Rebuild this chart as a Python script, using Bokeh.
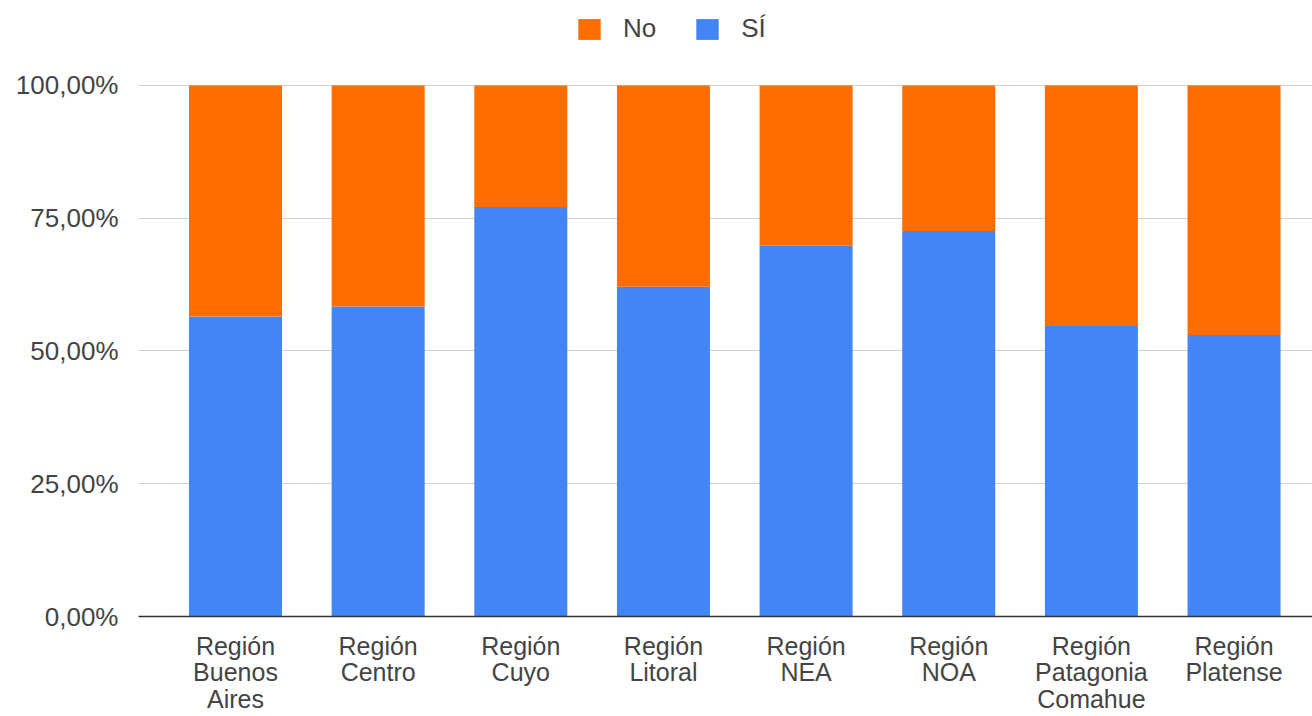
from bokeh.plotting import figure
from bokeh.models import Range1d, FixedTicker, Legend, LegendItem, ColumnDataSource
from bokeh.embed import file_html
from bokeh.resources import INLINE

categories = ["Región\nBuenos\nAires", "Región\nCentro", "Región\nCuyo", "Región\nLitoral",
              "Región\nNEA", "Región\nNOA", "Región\nPatagonia\nComahue", "Región\nPlatense"]
si_values = [0.565, 0.584, 0.771, 0.621, 0.698, 0.726, 0.547, 0.530]
no_values = [1 - v for v in si_values]
y_ticks = [0, 0.25, 0.5, 0.75, 1.0]
y_tick_labels = ["0,00%", "25,00%", "50,00%", "75,00%", "100,00%"]

ORANGE = "#ff6d01"
BLUE = "#4285f4"
FONT = "Liberation Sans"

x = list(range(len(categories)))
src = ColumnDataSource(dict(x=x, si=si_values, no=no_values))

# y range extends above 100% so the legend can sit in the frame's top band
p = figure(width=1312, height=716, output_backend="svg", toolbar_location=None,
           x_range=Range1d(-0.68, 7.55), y_range=Range1d(0, 1.160),
           min_border_left=138, min_border_right=0, min_border_top=0, min_border_bottom=95)
p.outline_line_color = None

r = p.vbar_stack(["si", "no"], x="x", width=0.652, source=src, color=[BLUE, ORANGE], line_color=None)

p.xgrid.grid_line_color = None
p.ygrid.grid_line_color = "#d0d0d0"
p.ygrid.grid_line_width = 1
p.ygrid.ticker = FixedTicker(ticks=y_ticks)

p.yaxis.ticker = FixedTicker(ticks=y_ticks)
p.yaxis.major_label_overrides = {t: l for t, l in zip(y_ticks, y_tick_labels)}
p.yaxis.axis_line_color = None
p.yaxis.major_tick_line_color = None
p.yaxis.minor_tick_line_color = None
p.yaxis.major_label_text_font = FONT
p.yaxis.major_label_text_font_size = "26px"
p.yaxis.major_label_text_color = "#444444"
p.yaxis.major_label_standoff = 14

p.xaxis.ticker = FixedTicker(ticks=x)
p.xaxis.major_label_overrides = {i: c for i, c in zip(x, categories)}
p.xaxis.axis_line_color = "#333333"
p.xaxis.axis_line_width = 1.5
p.xaxis.major_tick_line_color = None
p.xaxis.minor_tick_line_color = None
p.xaxis.major_label_text_font = FONT
p.xaxis.major_label_text_font_size = "25px"
p.xaxis.major_label_text_line_height = 0.96
p.xaxis.major_label_text_color = "#444444"
p.xaxis.major_label_standoff = 9

legend = Legend(items=[LegendItem(label="No", renderers=[r[1]]),
                       LegendItem(label="SÍ", renderers=[r[0]])],
                orientation="horizontal", location=(437, 572),
                glyph_width=28, glyph_height=26, label_standoff=20, spacing=37,
                padding=0, margin=0, border_line_color=None, background_fill_alpha=0,
                label_text_font=FONT, label_text_font_size="26px", label_text_color="#444444")
p.add_layout(legend, "center")

open("out.html", "w").write(file_html(p, INLINE))
